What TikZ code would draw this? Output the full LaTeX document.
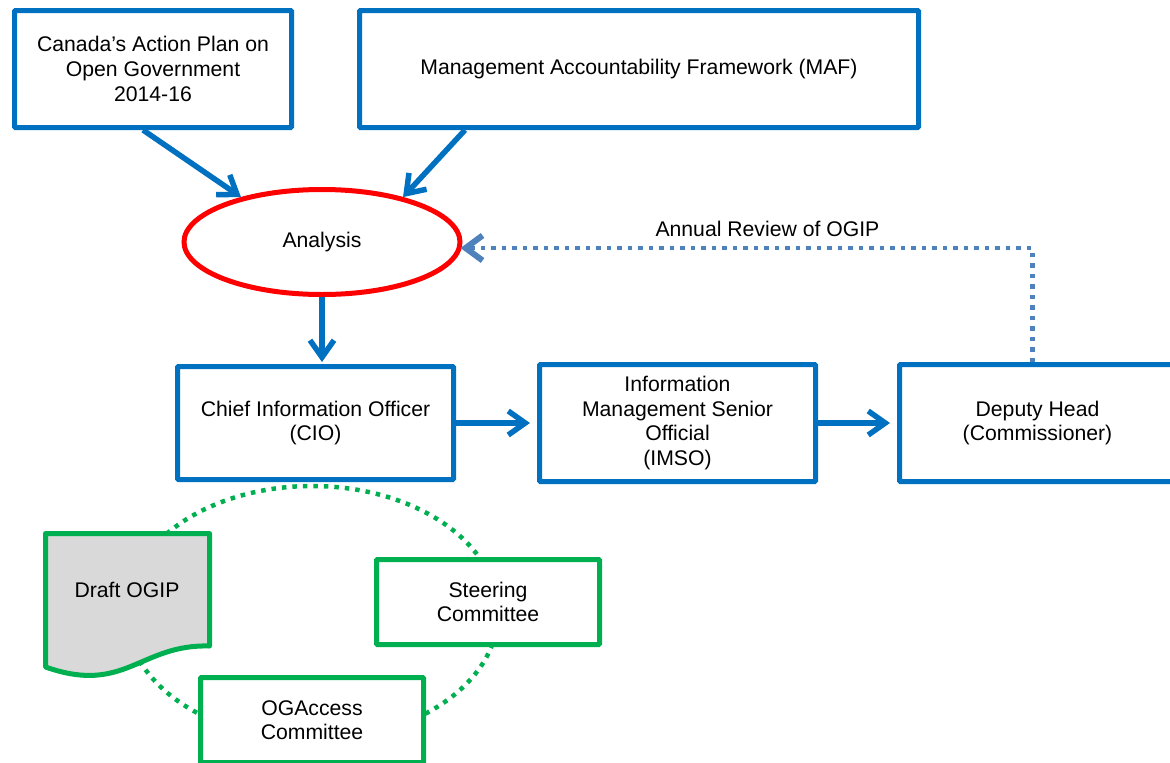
\documentclass[tikz,border=0pt]{standalone}
\usepackage{fontspec}
\setmainfont{Liberation Sans}
\usetikzlibrary{arrows.meta,shapes.geometric,calc}
\definecolor{bl}{RGB}{0,112,192}
\definecolor{rd}{RGB}{255,0,0}
\definecolor{gr}{RGB}{0,176,80}
\definecolor{dotbl}{RGB}{79,129,189}
\definecolor{docgray}{RGB}{217,217,217}
\begin{document}
\begin{tikzpicture}[x=1pt,y=-1pt,
  every node/.style={font=\fontsize{21.2}{24.6}\selectfont, align=center},
  bbox/.style={draw=bl, line width=5pt, fill=white, inner sep=0pt, rectangle, rounded corners=1pt, minimum width=276pt, minimum height=117pt},
  gbox/.style={draw=gr, line width=5pt, fill=white, inner sep=0pt, rectangle, rounded corners=1pt, minimum width=223pt, minimum height=85pt},
  arr/.style={draw=bl, line width=5.5pt, -{Straight Barb[length=17pt,width=24pt]}},
  dotarr/.style={draw=dotbl, line width=4.5pt, dash pattern=on 4.5pt off 6pt, -{Straight Barb[length=17pt,width=25pt,line width=6pt]}},
  cyc/.style={draw=gr, line width=4.5pt, dash pattern=on 4.5pt off 6pt}
]
\clip (0,0) rectangle (1170,763);
\fill[white] (0,0) rectangle (1170,763);

% committee cycle
\draw[cyc] (312,613) ellipse [x radius=186, y radius=127];

% top boxes
\node[bbox, minimum width=277pt] (b1) at (153,69) {Canada’s Action Plan on\\Open Government\\2014-16};
\node[bbox, minimum width=559pt] (b2) at (639,69) {Management Accountability Framework (MAF)};

% analysis
\node[ellipse, draw=rd, line width=5pt, fill=white, inner sep=0pt, minimum width=276pt, minimum height=105pt] (an) at (322,242) {Analysis};

% row of officers
\node[bbox, minimum height=113pt] (cio) at (315.5,423) {Chief Information Officer\\(CIO)};
\node[bbox] (imso) at (677.5,423) {Information\\Management Senior\\Official\\(IMSO)};
\node[bbox] (dep) at (1037.5,423) {Deputy Head\\(Commissioner)};

% committee items
\node[gbox] (steer) at (488,602) {Steering\\Committee};
\node[gbox] (oga) at (312,720) {OGAccess\\Committee};
\draw[draw=gr, line width=5pt, fill=docgray, line join=round]
  (45.5,533.5) -- (209.5,533.5) -- (209.5,646)
  .. controls (140,644) and (125,695) .. (45.5,667) -- cycle;
\node (doc) at (127,590) {Draft OGIP};

% connectors
\draw[arr] ($(b1.south)+(-10,0)$) -- (an.151);
\draw[arr] ($(b2.south)+(-174,0)$) -- (an.29);
\draw[arr, shorten >=2pt] (an.south) -- (an.south |- cio.north);
\draw[arr, shorten >=7pt] (cio.east) -- (imso.west);
\draw[arr, shorten >=7pt] (imso.east) -- (dep.west);

\coordinate (rc) at ($(dep.north)+(-5,-114)$);
\draw[dotarr, shorten >=-2pt] ($(dep.north)+(-5,0)$) -- (rc)
  -- node[pos=0.465, above=9pt, inner sep=0pt, anchor=south] (lbl) {Annual Review of OGIP} (an.east |- rc);
\end{tikzpicture}
\end{document}
